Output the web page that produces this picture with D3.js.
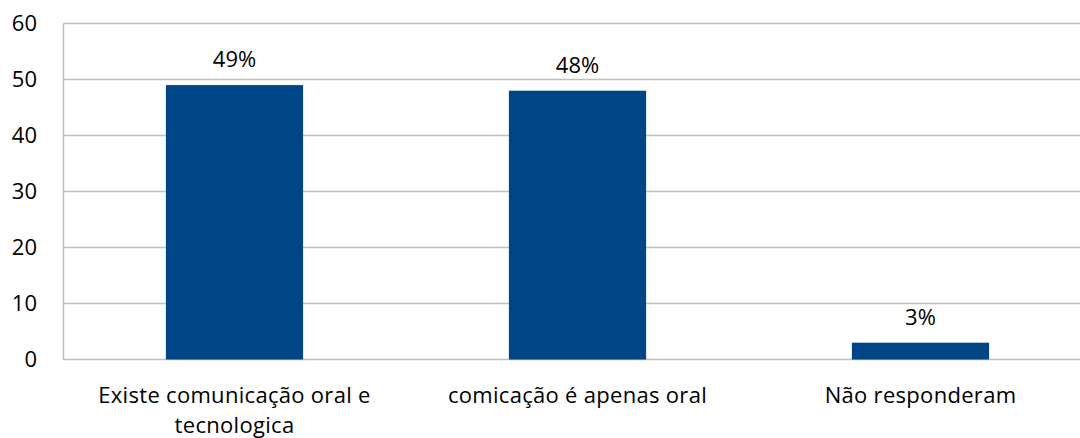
<!DOCTYPE html>
<html>
<head>
<meta charset="utf-8">
<script src="https://cdn.jsdelivr.net/npm/d3@7"></script>
<style>
  body { margin: 0; background: #fff; }
  text { font-family: "Open Sans", sans-serif; fill: #000; }
</style>
</head>
<body>
<div id="chart"></div>
<script>
// chart data
let categories = ["Existe comunicação oral e tecnologica", "comicação é apenas oral", "Não responderam"];
let values = [49, 48, 3];
let valueLabels = ["49%", "48%", "3%"];
let yTicks = [0, 10, 20, 30, 40, 50, 60];

let svgWidth = 1080;
let svgHeight = 438;

let margin = { top: 23.5, left: 63, bottom: 78.5 };
let plotWidth = 1029; // runs past the right edge, like the reference
let height = svgHeight - margin.top - margin.bottom;
let fontSize = "22px";

let svg = d3.select("#chart")
    .append("svg")
    .attr("width", svgWidth)
    .attr("height", svgHeight);

let chartGroup = svg.append("g")
    .attr("transform", `translate(${margin.left}, ${margin.top})`);

let xScale = d3.scaleBand()
    .domain(categories)
    .range([0, plotWidth])
    .paddingInner(0.6)
    .paddingOuter(0.3);

let yScale = d3.scaleLinear()
    .domain([0, 60])
    .range([height, 0]);

// gridlines
chartGroup.selectAll(".grid")
    .data(yTicks)
    .enter()
    .append("line")
    .attr("x1", 0)
    .attr("x2", plotWidth)
    .attr("y1", d => yScale(d))
    .attr("y2", d => yScale(d))
    .attr("stroke", "#bfbfbf")
    .attr("stroke-width", 1.5);

// y axis
let leftAxis = d3.axisLeft(yScale).tickValues(yTicks).tickSize(0).tickPadding(26);
let yAxis = chartGroup.append("g").call(leftAxis);
yAxis.select(".domain").attr("stroke", "#bfbfbf").attr("stroke-width", 1.5);
yAxis.selectAll("text")
    .style("font-family", "'Open Sans', sans-serif")
    .style("font-size", fontSize)
    .attr("fill", "#000");

// bars
chartGroup.selectAll("rect")
    .data(values)
    .enter()
    .append("rect")
    .attr("x", (d, i) => xScale(categories[i]))
    .attr("y", d => yScale(d))
    .attr("width", xScale.bandwidth())
    .attr("height", d => height - yScale(d))
    .attr("fill", "#004586");

// value labels
chartGroup.selectAll(".vlabel")
    .data(values)
    .enter()
    .append("text")
    .attr("x", (d, i) => xScale(categories[i]) + xScale.bandwidth() / 2)
    .attr("y", d => yScale(d) - 18)
    .attr("text-anchor", "middle")
    .style("font-size", fontSize)
    .text((d, i) => valueLabels[i]);

// category labels, wrapped like the original
let wrapped = [["Existe comunicação oral e", "tecnologica"], ["comicação é apenas oral"], ["Não responderam"]];
categories.forEach(function(c, i) {
    let t = chartGroup.append("text")
        .attr("x", xScale(c) + xScale.bandwidth() / 2)
        .attr("y", height + 43)
        .attr("text-anchor", "middle")
        .style("font-size", fontSize)
        .style("letter-spacing", "0.3px");
    wrapped[i].forEach(function(line, j) {
        t.append("tspan")
            .attr("x", xScale(c) + xScale.bandwidth() / 2)
            .attr("dy", j === 0 ? 0 : 30)
            .text(line);
    });
});
</script>
</body>
</html>
